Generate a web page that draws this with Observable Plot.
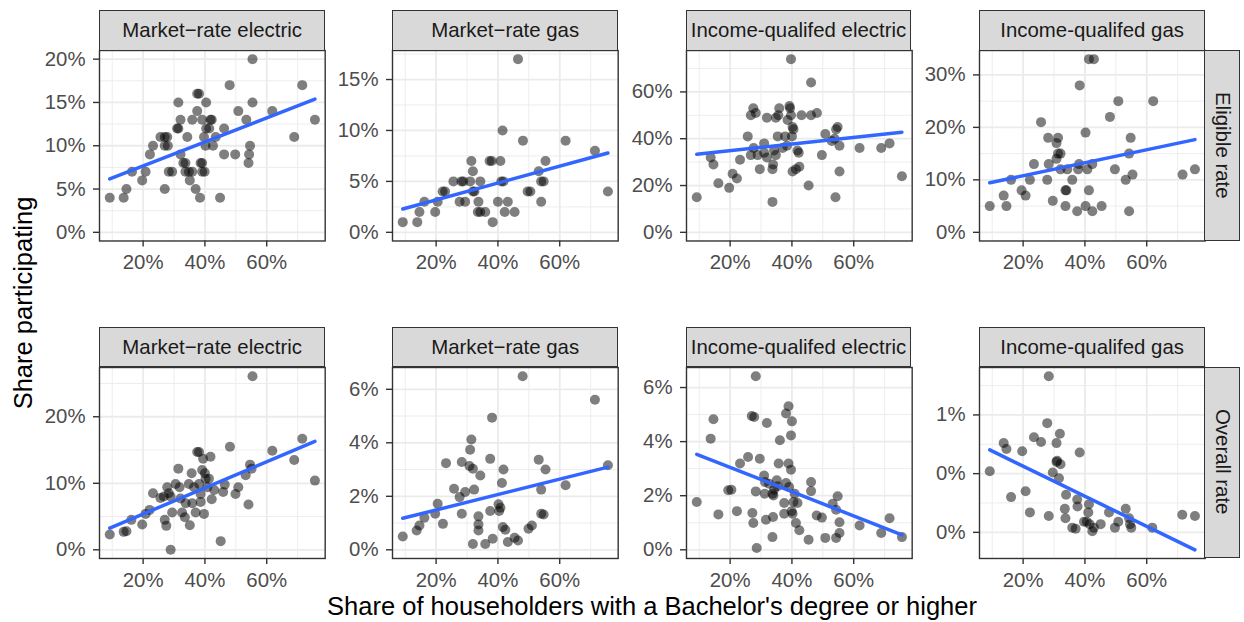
<!DOCTYPE html>
<html>
<head>
<meta charset="utf-8">
<script src="https://cdn.jsdelivr.net/npm/d3@7"></script>
<script src="https://cdn.jsdelivr.net/npm/@observablehq/plot@0.6"></script>
<style>
  html, body { margin: 0; padding: 0; background: #fff; }
  #chart { position: relative; width: 1244px; height: 622px; overflow: hidden; font-family: "Liberation Sans", Arial, Helvetica, sans-serif; }
  .strip { position: absolute; box-sizing: border-box; background: #D9D9D9; border: 1.4px solid #333333; color: #1A1A1A; font-size: 20.4px; display: flex; align-items: center; justify-content: center; white-space: nowrap; overflow: hidden; }
  .stripR { writing-mode: vertical-rl; }
  .panel { position: absolute; }
  .title { position: absolute; color: #000; font-size: 25.5px; white-space: nowrap; }
</style>
</head>
<body>
<div id="chart"></div>
<script>
// ---------------- data ----------------
const columnTitles = ["Market\u2212rate electric", "Market\u2212rate gas", "Income-qualifed electric", "Income-qualifed gas"];
const rowTitles = ["Eligible rate", "Overall rate"];
const xTitle = "Share of householders with a Bachelor's degree or higher";
const yTitle = "Share participating";

const xTicks = [20, 40, 60];
const xTickLabels = ["20%", "40%", "60%"];

// Eligible rate — Market-rate electric
const mktElecEligX = [9.2,13.7,14.6,16.4,19.7,20.8,22.2,23.2,25.6,27.0,27.8,27.0,28.0,27.0,28.3,29.4,31.0,31.4,31.4,32.1,32.1,33.0,33.7,34.3,33.7,34.8,35.1,35.9,35.9,37.0,37.5,37.5,38.1,38.4,38.6,39.1,39.1,39.9,39.1,39.7,40.2,40.4,40.4,41.4,41.8,42.2,42.6,43.5,44.9,46.2,46.2,48.0,49.8,50.8,53.4,54.1,54.3,54.6,55.4,55.4,61.8,68.9,71.5,75.6];
const mktElecEligY = [4,4,5,7,6,7,9,10,11,11,11,10,10,5,7,7,12,12,15,13,9,8,8,11,7,7,6,13,7,5,14,16,16,4,8,8,7,7,13,11,10,12,15,12,13,13,10,11,4,12,9,17,9,14,13,8,9,10,15,20,14,11,17,13];
const mktElecEligTicks = [0, 5, 10, 15, 20];
const mktElecEligLabels = ["0%", "5%", "10%", "15%", "20%"];

// Eligible rate — Market-rate gas
const mktGasEligX = [9.2,13.9,14.6,16.2,19.7,20.5,22.1,22.9,25.6,27.6,28.2,28.8,29.4,31.0,31.4,31.9,31.9,32.4,33.7,33.5,34.3,34.3,35.9,37.3,38.0,38.3,40.0,40.8,41.1,41.8,41.5,42.2,43.2,45.4,46.5,48.1,49.6,50.5,53.2,54.0,54.0,54.8,55.4,61.9,71.4,75.6];
const mktGasEligY = [1,1,2,3,2,3,4,4,5,3,5,5,3,5,7,6,4,4,3,2,2,5,2,7,7,1,3,7,5,5,10,2,3,2,17,9,4,4,6,3,5,5,7,9,8,4];
const mktGasEligTicks = [0, 5, 10, 15];
const mktGasEligLabels = ["0%", "5%", "10%", "15%"];

// Eligible rate — Income-qualified electric
const iqElecEligX = [9.2,13.7,14.6,16.2,19.7,20.8,22.2,23.2,25.7,26.7,26.7,27.5,27.6,28.3,28.9,29.6,31.0,31.9,31.0,31.9,33.7,33.7,33.9,34.2,34.8,34.8,35.6,35.9,35.4,37.0,37.8,38.6,38.4,39.2,39.4,39.7,39.7,40.0,40.2,40.5,40.2,41.3,41.8,42.2,42.4,43.1,45.4,46.2,46.2,48.1,49.7,50.8,52.9,53.8,54.1,54.3,54.8,55.4,55.4,61.9,68.9,71.6,75.6];
const iqElecEligY = [15,32,29,21,19,25,23,31,41,33,50,53,36,51,33,27,38,49,34,32,13,27,29,35,33,49,50,53,41,36,41,48,37,54,53,50,74,41,45,44,26,27,35,34,28,50,20,50,64,51,33,42,39,40,15,44,45,37,26,36,36,38,24];
const iqElecEligTicks = [0, 20, 40, 60];
const iqElecEligLabels = ["0%", "20%", "40%", "60%"];

// Eligible rate — Income-qualified gas
const iqGasEligX = [9.2,13.7,14.6,16.1,19.5,20.8,22.2,23.5,25.8,27.8,28.1,28.3,29.6,30.8,31.3,30.8,31.3,32.1,32.1,33.7,34.0,33.7,34.3,35.9,37.5,37.8,38.1,38.3,40.2,40.2,40.8,41.3,41.3,42.9,42.4,42.4,45.4,48.1,49.7,50.8,53.2,54.3,54.3,54.8,55.4,62.1,71.6,75.6];
const iqGasEligY = [5,7,5,10,8,7,10,13,21,10,18,13,6,14,15,17,18,15,12,8,8,5,12,10,4,12,13,28,5,19,12,8,33,33,4,13,5,22,12,25,10,4,15,18,11,25,11,12];
const iqGasEligTicks = [0, 10, 20, 30];
const iqGasEligLabels = ["0%", "10%", "20%", "30%"];

// Overall rate — Market-rate electric
const mktElecAllX = [9.2,13.7,14.6,16.2,19.7,20.8,22.1,23.2,25.6,26.7,27.0,27.5,27.8,28.3,28.9,28.9,29.4,30.5,31.4,31.8,32.1,32.6,33.5,33.8,34.8,35.1,35.7,35.9,36.5,37.0,37.5,38.1,38.1,38.6,38.6,39.1,39.4,39.7,40.0,40.2,40.8,41.3,41.8,42.2,43.0,45.1,45.9,46.4,48.1,49.9,50.8,53.2,54.1,54.6,55.1,55.4,61.8,68.9,71.5,75.6];
const mktElecAllY = [2.3,2.7,2.8,4.5,3.8,5.4,6.0,8.5,7.8,8.0,4.5,3.6,9.4,8.5,8.0,0,5.6,9.9,12.2,9.4,7.7,5.6,4.9,7.0,9.9,3.7,11.5,7.0,9.4,5.6,14.7,14.7,9.9,8.4,7.2,12.0,13.7,5.4,11.5,10.7,9.4,10.7,14.0,7.6,9.0,1.3,8.7,9.8,15.5,8.4,9.4,11.2,6.8,12.8,12.2,26.1,14.9,13.5,16.7,10.4];
const mktElecAllTicks = [0, 10, 20];
const mktElecAllLabels = ["0%", "10%", "20%"];

// Overall rate — Market-rate gas
const mktGasAllX = [9.2,13.7,14.6,16.2,19.7,20.5,22.2,23.2,25.8,27.6,28.3,28.3,29.4,30.8,31.0,31.4,31.9,31.9,32.3,33.7,33.7,33.7,34.3,35.9,37.5,38.1,37.5,38.3,40.2,40.4,40.8,41.3,41.8,41.6,42.4,43.2,45.4,46.5,48.0,49.9,51.0,53.2,54.0,54.0,54.8,55.4,61.9,71.4,75.6];
const mktGasAllY = [0.5,0.72,0.91,1.2,1.35,1.72,0.97,3.24,2.28,1.97,1.35,3.28,2.16,3.13,3.74,4.12,3.03,0.22,2.25,1.25,0.95,0.72,2.78,0.22,3.4,4.94,1.45,0.41,1.7,1.45,1.57,2.5,3.0,0.85,0.75,0.29,0.45,0.35,6.49,0.79,0.91,3.37,2.25,1.35,1.32,3.0,2.41,5.61,3.16];
const mktGasAllTicks = [0, 2, 4, 6];
const mktGasAllLabels = ["0%", "2%", "4%", "6%"];

// Overall rate — Income-qualified electric
const iqElecAllX = [9.2,13.7,14.6,16.2,19.4,20.4,22.2,23.2,25.8,27.0,27.8,27.2,27.5,28.3,28.3,28.6,29.6,31.0,31.3,31.2,31.9,31.6,32.6,33.7,34.0,33.7,33.9,34.2,35.1,35.4,36.1,35.7,37.5,37.5,38.1,38.9,38.1,38.9,39.1,39.7,40.0,39.7,39.9,40.2,40.5,40.9,41.3,41.8,42.4,45.4,46.2,46.2,48.0,49.7,50.8,53.2,54.3,54.8,54.3,55.4,55.4,61.9,68.9,71.6,75.6];
const iqElecAllY = [1.77,4.11,4.83,1.31,2.2,2.22,1.43,3.19,3.43,4.95,4.91,1.36,0.99,6.42,2.16,0.07,3.37,2.75,2.51,2.07,4.69,1.11,2.44,2.07,2.01,0.47,1.21,2.22,2.57,2.35,4.05,3.19,1.33,1.73,2.47,3.19,5.04,5.31,2.32,2.96,4.75,4.23,1.43,1.33,1.77,2.07,0.99,1.73,0.72,0.37,2.51,2.17,1.27,1.19,0.44,1.7,0.44,1.98,1.48,1.02,0.62,0.9,0.62,1.17,0.47];
const iqElecAllTicks = [0, 2, 4, 6];
const iqElecAllLabels = ["0%", "2%", "4%", "6%"];

// Overall rate — Income-qualified gas
const iqGasAllX = [9.2,13.7,14.6,16.1,19.7,20.8,22.2,23.5,25.8,27.8,28.3,28.3,29.6,30.8,31.0,31.9,30.8,32.1,31.6,33.5,33.7,33.9,35.9,37.0,37.5,38.3,37.6,39.7,40.6,41.1,41.3,41.5,42.4,42.9,45.1,47.8,49.7,50.8,53.2,54.3,54.6,55.0,61.8,71.5,75.6];
const iqGasAllY = [0.52,0.76,0.71,0.30,0.69,0.35,0.17,0.81,0.77,0.93,0.14,1.33,0.51,0.76,0.61,0.84,0.60,0.58,0.46,0.2,0.12,0.32,0.04,0.03,0.28,0.68,0.22,0.09,0.09,0.17,0.24,0.07,0.01,0.04,0.07,0.17,0.04,0.09,0.2,0.12,0.07,0.04,0.04,0.15,0.14];
const iqGasAllTicks = [0, 0.5, 1];
const iqGasAllLabels = ["0%", "0%", "1%"];

// ---------------- layout ----------------
const FONT = '"Liberation Sans", Arial, Helvetica, sans-serif';
const colLeft = [99.3, 392.3, 685.7, 979.3];
const PW = 225.7;
const rowTop = [50, 366.7];
const rowH = [190.5, 191];
const stripH = 40;
const ML = 75, MR = 2, MT = 2, MB = 45;

const panels = [
  {r:0, c:0, x:mktElecEligX, y:mktElecEligY, ticks:mktElecEligTicks, labels:mktElecEligLabels},
  {r:0, c:1, x:mktGasEligX,  y:mktGasEligY,  ticks:mktGasEligTicks,  labels:mktGasEligLabels},
  {r:0, c:2, x:iqElecEligX,  y:iqElecEligY,  ticks:iqElecEligTicks,  labels:iqElecEligLabels},
  {r:0, c:3, x:iqGasEligX,   y:iqGasEligY,   ticks:iqGasEligTicks,   labels:iqGasEligLabels},
  {r:1, c:0, x:mktElecAllX,  y:mktElecAllY,  ticks:mktElecAllTicks,  labels:mktElecAllLabels},
  {r:1, c:1, x:mktGasAllX,   y:mktGasAllY,   ticks:mktGasAllTicks,   labels:mktGasAllLabels},
  {r:1, c:2, x:iqElecAllX,   y:iqElecAllY,   ticks:iqElecAllTicks,   labels:iqElecAllLabels},
  {r:1, c:3, x:iqGasAllX,    y:iqGasAllY,    ticks:iqGasAllTicks,    labels:iqGasAllLabels}
];

const chart = document.getElementById("chart");

// shared x domain (ggplot-style 5% expansion of all x values)
const allX = panels.flatMap(p => p.x);
const [x0, x1] = d3.extent(allX);
const xDom = [x0 - 0.05 * (x1 - x0), x1 + 0.05 * (x1 - x0)];

function minorOf(ticks, dom) {
  const step = ticks.length > 1 ? ticks[1] - ticks[0] : 1;
  const out = [];
  for (let v = ticks[0] - step / 2; v <= dom[1]; v += step) if (v >= dom[0]) out.push(v);
  return out;
}

function ols(xs, ys) {
  const mx = d3.mean(xs), my = d3.mean(ys);
  let sxy = 0, sxx = 0;
  xs.forEach((x, i) => { sxy += (x - mx) * (ys[i] - my); sxx += (x - mx) * (x - mx); });
  const b = sxy / sxx, a = my - b * mx;
  return x => a + b * x;
}

panels.forEach(p => {
  const data = p.x.map((x, i) => ({x, y: p.y[i]}));
  const f = ols(p.x, p.y);
  const [dx0, dx1] = d3.extent(p.x);
  const lo = Math.min(0, d3.min(p.y), f(dx0), f(dx1));
  const hi = Math.max(d3.max(p.y), f(dx0), f(dx1));
  const yDom = [lo - 0.05 * (hi - lo), hi + 0.05 * (hi - lo)];
  const H = rowH[p.r];
  const gridStyle = {stroke: "#EBEBEB", strokeOpacity: 1};
  const svg = Plot.plot({
    width: ML + PW + MR,
    height: MT + H + MB,
    marginLeft: ML, marginRight: MR, marginTop: MT, marginBottom: MB,
    style: {fontFamily: FONT, fontSize: "20.4px", background: "transparent", overflow: "visible"},
    x: {domain: xDom, label: null},
    y: {domain: yDom, label: null},
    marks: [
      Plot.frame({fill: "white", stroke: null}),
      Plot.gridX(minorOf(xTicks, xDom), {...gridStyle, strokeWidth: 0.9}),
      Plot.gridY(minorOf(p.ticks, yDom), {...gridStyle, strokeWidth: 0.9}),
      Plot.gridX(xTicks, {...gridStyle, strokeWidth: 1.8}),
      Plot.gridY(p.ticks, {...gridStyle, strokeWidth: 1.8}),
      Plot.dot(data, {x: "x", y: "y", r: 5, fill: "#000", fillOpacity: 0.5, stroke: null}),
      Plot.linearRegressionY(data, {x: "x", y: "y", stroke: "#3366FF", strokeWidth: 3.5, ci: 0}),
      Plot.frame({stroke: "#333333", strokeWidth: 1.4}),
      Plot.axisX(xTicks, {tickFormat: v => xTickLabels[xTicks.indexOf(v)], tickSize: 6, tickPadding: 8, stroke: "#333333", strokeWidth: 1.4, fill: "#4D4D4D", label: null}),
      Plot.axisY(p.ticks, {tickFormat: v => p.labels[p.ticks.indexOf(v)], tickSize: 6, tickPadding: 8, stroke: "#333333", strokeWidth: 1.4, fill: "#4D4D4D", label: null})
    ]
  });
  const wrap = document.createElement("div");
  wrap.className = "panel";
  wrap.style.left = (colLeft[p.c] - ML) + "px";
  wrap.style.top = (rowTop[p.r] - MT) + "px";
  wrap.appendChild(svg);
  chart.appendChild(wrap);

  // column strip
  const s = document.createElement("div");
  s.className = "strip";
  s.style.left = colLeft[p.c] + "px";
  s.style.top = (rowTop[p.r] - stripH) + "px";
  s.style.width = PW + "px";
  s.style.height = (stripH + 0.7) + "px";
  s.textContent = columnTitles[p.c];
  chart.appendChild(s);

  // row strip
  if (p.c === 3) {
    const rs = document.createElement("div");
    rs.className = "strip stripR";
    rs.style.left = (colLeft[3] + PW - 0.7) + "px";
    rs.style.top = rowTop[p.r] + "px";
    rs.style.width = "35.7px";
    rs.style.height = H + "px";
    rs.textContent = rowTitles[p.r];
    chart.appendChild(rs);
  }
});

const xt = document.createElement("div");
xt.className = "title";
xt.textContent = xTitle;
xt.style.left = "652px";
xt.style.top = "592px";
xt.style.transform = "translateX(-50%)";
chart.appendChild(xt);

const yt = document.createElement("div");
yt.className = "title";
yt.textContent = yTitle;
yt.style.left = "23px";
yt.style.top = "303px";
yt.style.transform = "translate(-50%, -50%) rotate(-90deg)";
chart.appendChild(yt);
</script>
</body>
</html>
